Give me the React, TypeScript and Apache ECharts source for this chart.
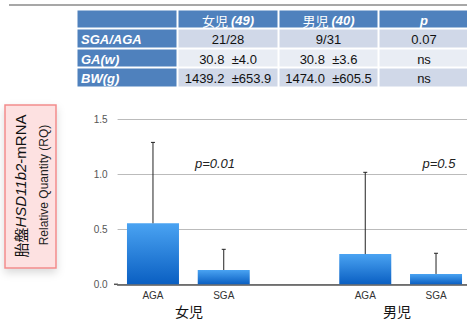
import React, { useEffect, useRef } from 'react';
import * as echarts from 'echarts';

// Bar chart data: relative quantity (RQ) of placental HSD11b2 mRNA
const categories = ['AGA', 'SGA', '', 'AGA', 'SGA'];
const meanValues = [0.555, 0.13, null, 0.275, 0.094];
const upperValues = [1.29, 0.318, null, 1.018, 0.282];
const groupLabels = ['女児', '男児'];
const pLabels = ['p=0.01', 'p=0.5'];

// Summary table
const headerNames = ['', '女児', '男児', 'p'];
const headerCounts = ['', '(49)', '(40)', ''];
const rowLabels = ['SGA/AGA', 'GA(w)', 'BW(g)'];
const girlValues = ['21/28', '30.8  ±4.0', '1439.2  ±653.9'];
const boyValues = ['9/31', '30.8  ±3.6', '1474.0  ±605.5'];
const pValues = ['0.07', 'ns', 'ns'];

const FONT = '"Liberation Sans", Arial, sans-serif';
const CJK = '"Noto Sans CJK JP", "Liberation Sans", sans-serif';

export default function App() {
  const ref = useRef<HTMLDivElement>(null);

  useEffect(() => {
    document.body.style.margin = '0';
    document.body.style.overflow = 'hidden';
    document.documentElement.style.overflow = 'hidden';
    if (!ref.current) return;
    const chart = echarts.init(ref.current, null, { renderer: 'svg' });

    // table geometry
    const colX = [77, 178, 279, 379];
    const colW = [100, 100, 99, 100];
    const rowY = [10, 29, 49, 68];
    const rowH = [18, 19, 18, 19];
    const headBlue = '#4f81bd';
    const rowFill = ['#d0d8e8', '#e9edf4', '#d0d8e8'];

    const table: any[] = [];
    for (let c = 0; c < 4; c++) {
      table.push({
        type: 'rect',
        shape: { x: colX[c], y: rowY[0], width: colW[c], height: rowH[0] },
        style: { fill: headBlue, stroke: '#fff', lineWidth: 1 },
      });
      if (c > 0) {
        const isP = c === 3;
        table.push({
          type: 'text',
          x: colX[c] + colW[c] / 2 - (c === 3 ? 5 : 0),
          y: rowY[0] + rowH[0] / 2 + 1,
          style: {
            text: isP
              ? `{b|${headerNames[c]}}`
              : `{n|${headerNames[c]} }{b|${headerCounts[c]}}`,
            align: 'center',
            verticalAlign: 'middle',
            rich: {
              n: { fontFamily: CJK, fontSize: 13, fill: '#fff' },
              b: { fontFamily: FONT, fontSize: 13, fontWeight: 'bold', fontStyle: 'italic', fill: '#fff' },
            },
          },
        });
      }
    }
    for (let r = 0; r < 3; r++) {
      const y = rowY[r + 1];
      const h = rowH[r + 1];
      table.push({
        type: 'rect',
        shape: { x: colX[0], y, width: colW[0], height: h },
        style: { fill: headBlue, stroke: '#fff', lineWidth: 1 },
      });
      table.push({
        type: 'text',
        x: colX[0] + 4,
        y: y + h / 2 + 1,
        style: {
          text: rowLabels[r],
          font: `italic bold 13px ${FONT}`,
          fill: '#fff',
          verticalAlign: 'middle',
        },
      });
      const cells = [girlValues[r], boyValues[r], pValues[r]];
      for (let c = 1; c < 4; c++) {
        table.push({
          type: 'rect',
          shape: { x: colX[c], y, width: colW[c], height: h },
          style: { fill: rowFill[r], stroke: '#fff', lineWidth: 1 },
        });
        table.push({
          type: 'text',
          x: colX[c] + colW[c] / 2 - (c === 3 ? 5 : 0),
          y: y + h / 2 + 1,
          style: {
            text: cells[c - 1],
            font: `13px ${FONT}`,
            fill: '#111',
            align: 'center',
            verticalAlign: 'middle',
          },
        });
      }
    }

    const option: any = {
      animation: false,
      grid: { left: 117.6, top: 119.3, width: 353.8, bottom: 36.7, containLabel: false },
      xAxis: {
        type: 'category',
        data: categories,
        axisTick: { show: false },
        axisLine: { lineStyle: { color: '#555', width: 1.5 } },
        axisLabel: { color: '#333', fontSize: 10, fontFamily: FONT, margin: 6 },
      },
      yAxis: {
        type: 'value',
        min: 0,
        max: 1.5,
        interval: 0.5,
        axisLine: { show: false },
        axisTick: { show: false },
        splitLine: { lineStyle: { color: '#bbbbbb', width: 1 } },
        axisLabel: {
          color: '#555',
          fontSize: 10,
          fontFamily: FONT,
          margin: 10,
          formatter: (v: number) => v.toFixed(1),
        },
      },
      series: [
        {
          type: 'bar',
          data: meanValues,
          barWidth: 52,
          itemStyle: {
            color: new echarts.graphic.LinearGradient(0, 0, 0, 1, [
              { offset: 0, color: '#4aa3f2' },
              { offset: 1, color: '#0a5fc2' },
            ]),
          },
          z: 2,
        },
        {
          type: 'custom',
          z: 3,
          data: categories.map((_, i) => [i, meanValues[i], upperValues[i]]),
          renderItem: (params: any, api: any) => {
            const m = api.value(1);
            const u = api.value(2);
            if (m == null || u == null || isNaN(m) || isNaN(u)) return null;
            const i = api.value(0);
            const p0 = api.coord([i, m]);
            const p1 = api.coord([i, u]);
            const st = { stroke: '#222', lineWidth: 1 };
            return {
              type: 'group',
              children: [
                { type: 'line', shape: { x1: p0[0], y1: p0[1], x2: p1[0], y2: p1[1] }, style: st },
                { type: 'line', shape: { x1: p1[0] - 2, y1: p1[1], x2: p1[0] + 2, y2: p1[1] }, style: st },
              ],
            };
          },
        },
      ],
      graphic: [
        {
          type: 'line',
          shape: { x1: 9, y1: 5, x2: 470, y2: 5 },
          style: { stroke: '#8a8a8a', lineWidth: 1.5 },
        },
        ...table,
        // short tick left of the baseline
        {
          type: 'line',
          shape: { x1: 114, y1: 284.3, x2: 118, y2: 284.3 },
          style: { stroke: '#555', lineWidth: 1.5 },
        },
        // y-axis title box
        {
          type: 'rect',
          shape: { x: 5, y: 105, width: 51, height: 163 },
          style: {
            fill: '#fde1e1',
            stroke: '#f28c8c',
            lineWidth: 1.5,
            shadowBlur: 8,
            shadowOffsetY: 4,
            shadowColor: 'rgba(0,0,0,0.15)',
          },
        },
        {
          type: 'text',
          x: 20,
          y: 186,
          rotation: Math.PI / 2,
          style: {
            text: '{n|胎盤}{i|HSD11b2}{a|-mRNA}',
            align: 'center',
            verticalAlign: 'middle',
            rich: {
              n: { fontFamily: CJK, fontSize: 15, fill: '#111' },
              i: { fontFamily: FONT, fontSize: 15, fontStyle: 'italic', fill: '#111' },
              a: { fontFamily: FONT, fontSize: 15, fill: '#111' },
            },
          },
        },
        {
          type: 'text',
          x: 44,
          y: 185,
          rotation: Math.PI / 2,
          style: {
            text: 'Relative Quantity (RQ)',
            font: `12px ${FONT}`,
            fill: '#222',
            align: 'center',
            verticalAlign: 'middle',
          },
        },
        // p-value annotations
        {
          type: 'text',
          x: 215,
          y: 163,
          style: { text: pLabels[0], font: `italic 13px ${FONT}`, fill: '#222', align: 'center', verticalAlign: 'middle' },
        },
        {
          type: 'text',
          x: 439,
          y: 163,
          style: { text: pLabels[1], font: `italic 13px ${FONT}`, fill: '#222', align: 'center', verticalAlign: 'middle' },
        },
        // group labels under the axis
        {
          type: 'text',
          x: 189,
          y: 311,
          style: { text: groupLabels[0], font: `14px ${CJK}`, fill: '#111', align: 'center', verticalAlign: 'middle' },
        },
        {
          type: 'text',
          x: 397,
          y: 311,
          style: { text: groupLabels[1], font: `14px ${CJK}`, fill: '#111', align: 'center', verticalAlign: 'middle' },
        },
      ],
    };

    chart.setOption(option);
    return () => chart.dispose();
  }, []);

  return <div ref={ref} style={{ width: 472, height: 321 }} />;
}
